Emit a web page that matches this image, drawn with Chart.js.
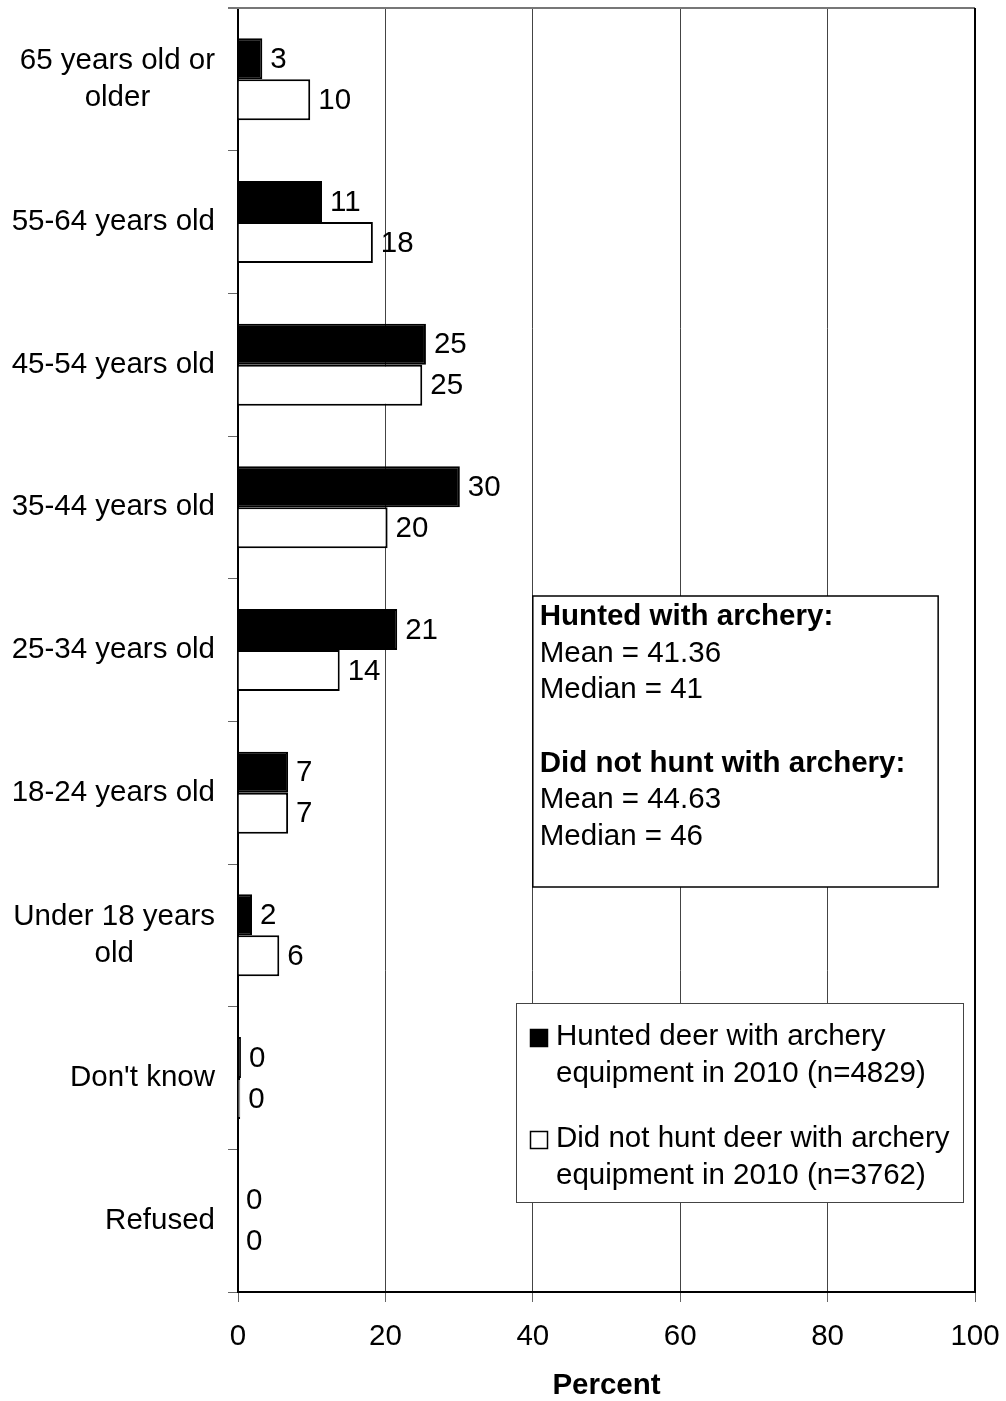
<!DOCTYPE html>
<html>
<head>
<meta charset="utf-8">
<script src="https://cdn.jsdelivr.net/npm/chart.js@4"></script>
<style>
  body { margin: 0; background: #fff; }
  #wrap { width: 1006px; height: 1401px; position: relative; }
</style>
</head>
<body>
<div id="wrap"><canvas id="myChart"></canvas></div>
<script>
// categories (top to bottom) and bar values
var categories = [
  ["65 years old or", "older"],
  ["55-64 years old"],
  ["45-54 years old"],
  ["35-44 years old"],
  ["25-34 years old"],
  ["18-24 years old"],
  ["Under 18 years", "old"],
  ["Don't know"],
  ["Refused"]
];
var huntedValues = [3.3, 11.4, 25.5, 30.1, 21.6, 6.8, 1.9, 0.4, 0];
var notHuntedValues = [9.8, 18.3, 25.0, 20.3, 13.8, 6.8, 5.6, 0.3, 0];
var huntedLabels = [3, 11, 25, 30, 21, 7, 2, 0, 0];
var notHuntedLabels = [10, 18, 25, 20, 14, 7, 6, 0, 0];
var seriesNames = [
  ["Hunted deer with archery", "equipment in 2010 (n=4829)"],
  ["Did not hunt deer with archery", "equipment in 2010 (n=3762)"]
];
var statsLines = [
  { text: "Hunted with archery:", bold: true },
  { text: "Mean = 41.36" },
  { text: "Median = 41" },
  { text: "" },
  { text: "Did not hunt with archery:", bold: true },
  { text: "Mean = 44.63" },
  { text: "Median = 46" }
];

var FONT = "'Liberation Sans', Arial, sans-serif";
var FS = 29.5;
Chart.defaults.font.family = FONT;
Chart.defaults.font.size = FS;
Chart.defaults.color = "#000";

var extras = {
  id: "extras",
  afterDraw: function (chart) {
    var ctx = chart.ctx;
    var area = chart.chartArea;
    var xs = chart.scales.x, ys = chart.scales.y;
    ctx.save();
    // top and right frame
    ctx.strokeStyle = "#777";
    ctx.lineWidth = 2;
    ctx.beginPath();
    ctx.moveTo(area.left - 10, area.top);
    ctx.lineTo(area.right, area.top);
    ctx.stroke();
    ctx.strokeStyle = "#000";
    ctx.beginPath();
    ctx.moveTo(area.right, area.top);
    ctx.lineTo(area.right, area.bottom);
    ctx.stroke();

    // category labels, lines centred on each other, block right aligned
    ctx.font = FS + "px " + FONT;
    ctx.fillStyle = "#000";
    ctx.textBaseline = "middle";
    ctx.textAlign = "center";
    categories.forEach(function (lines, i) {
      var w = 0;
      lines.forEach(function (l) { w = Math.max(w, ctx.measureText(l).width); });
      var cx = area.left - 23 - w / 2;
      var cy = ys.getPixelForValue(i);
      var lh = 37;
      lines.forEach(function (l, k) {
        ctx.fillText(l, cx, cy + (k - (lines.length - 1) / 2) * lh);
      });
    });

    // value labels
    ctx.textAlign = "left";
    var lbls = [huntedLabels, notHuntedLabels];
    chart.data.datasets.forEach(function (ds, d) {
      chart.getDatasetMeta(d).data.forEach(function (bar, i) {
        ctx.fillText(String(lbls[d][i]), bar.x + 8, bar.y + 1);
      });
    });

    // statistics box
    var bx = xs.getPixelForValue(40), bx2 = xs.getPixelForValue(95);
    var by = 596, bh = 291;
    ctx.fillStyle = "#fff";
    ctx.fillRect(bx, by, bx2 - bx, bh);
    ctx.strokeStyle = "#000";
    ctx.lineWidth = 1.5;
    ctx.strokeRect(bx, by, bx2 - bx, bh);
    ctx.fillStyle = "#000";
    statsLines.forEach(function (s, k) {
      ctx.font = (s.bold ? "bold " : "") + FS + "px " + FONT;
      ctx.fillText(s.text, bx + 7, by + 21 + k * 36.6);
    });

    // legend box
    var lx = 516, ly = 1003, lw = 447, lh2 = 199;
    ctx.fillStyle = "#fff";
    ctx.fillRect(lx, ly, lw, lh2);
    ctx.strokeStyle = "#444";
    ctx.lineWidth = 1;
    ctx.strokeRect(lx + 0.5, ly + 0.5, lw, lh2);
    ctx.font = FS + "px " + FONT;
    chart.data.datasets.forEach(function (ds, d) {
      var top = ly + 34 + d * 102;
      ctx.fillStyle = ds.backgroundColor;
      ctx.fillRect(lx + 14, top - 8, 18, 18);
      ctx.strokeStyle = "#000";
      ctx.lineWidth = 1.5;
      ctx.strokeRect(lx + 14.5, top - 7.5, 17, 17);
      ctx.fillStyle = "#000";
      seriesNames[d].forEach(function (l, k) {
        ctx.fillText(l, lx + 40, top + k * 37);
      });
    });
    ctx.restore();
  }
};

new Chart(document.getElementById("myChart"), {
  type: "bar",
  data: {
    labels: categories.map(function (c) { return c.join(" "); }),
    datasets: [
      {
        label: seriesNames[0].join(" "),
        data: huntedValues,
        backgroundColor: "#000",
        borderColor: "#000",
        borderWidth: 2,
        categoryPercentage: 0.575,
        barPercentage: 1
      },
      {
        label: seriesNames[1].join(" "),
        data: notHuntedValues,
        backgroundColor: "#fff",
        borderColor: "#000",
        borderWidth: 2,
        categoryPercentage: 0.575,
        barPercentage: 1
      }
    ]
  },
  options: {
    indexAxis: "y",
    responsive: true,
    maintainAspectRatio: false,
    animation: false,
    layout: { padding: { top: 8, right: 31, left: 0, bottom: 0 } },
    plugins: { legend: { display: false }, tooltip: { enabled: false } },
    scales: {
      x: {
        min: 0,
        max: 100,
        ticks: { stepSize: 20, padding: 17, color: "#000" },
        grid: { color: "#444", lineWidth: 1, tickLength: 10, tickColor: "#666" },
        border: { display: true, color: "#000", width: 2 },
        title: { display: true, text: "Percent", font: { weight: "bold", size: FS }, padding: { top: 0, bottom: -3 } },
        afterFit: function (scale) {
          scale.height = 109;
          scale.paddingLeft = 0;
          scale.paddingRight = 0;
        }
      },
      y: {
        ticks: { display: false },
        grid: { offset: true, drawOnChartArea: false, tickLength: 10, color: "#666", lineWidth: 1 },
        border: { display: true, color: "#000", width: 2 },
        afterFit: function (scale) {
          scale.width = 238;
          scale.paddingTop = 0;
          scale.paddingBottom = 0;
        }
      }
    }
  },
  plugins: [extras]
});
</script>
</body>
</html>
